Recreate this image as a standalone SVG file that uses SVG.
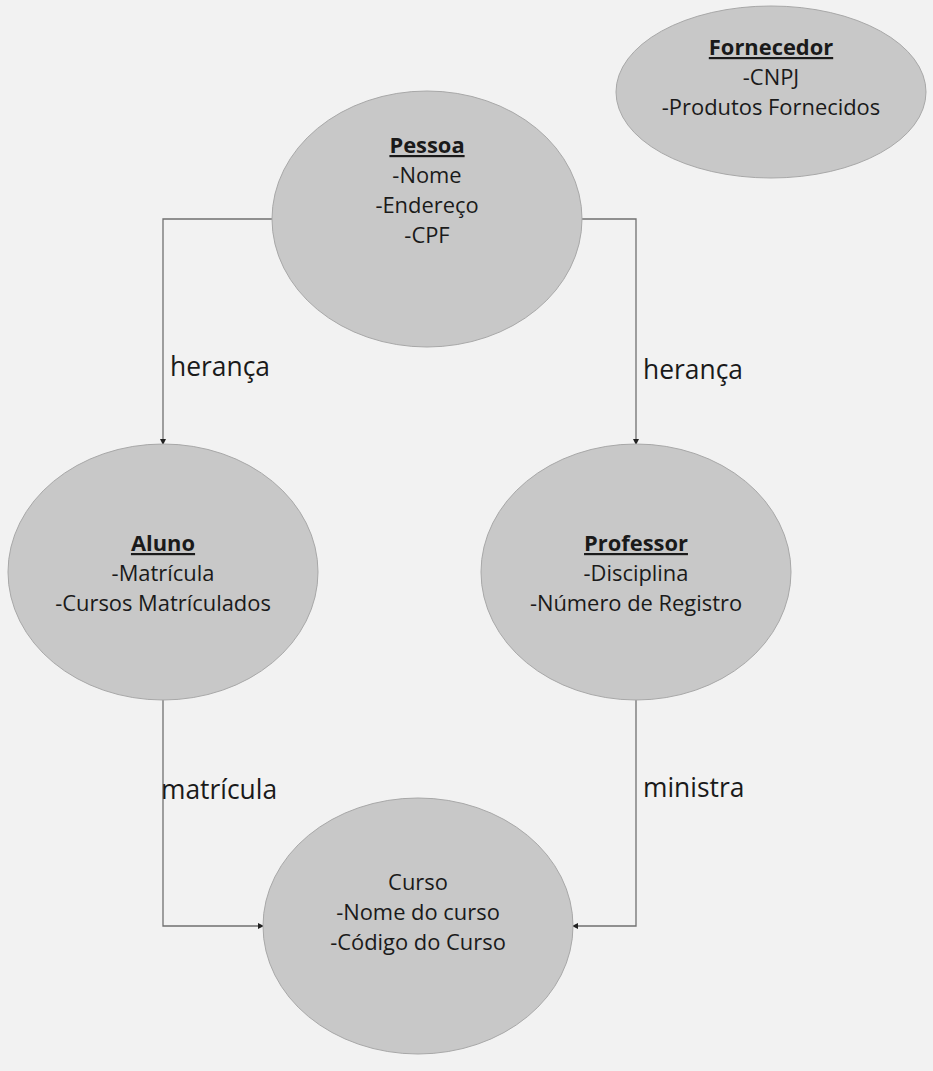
<svg xmlns="http://www.w3.org/2000/svg" width="933" height="1071" viewBox="0 0 933 1071">
<defs>
<style>
.n{fill:#c8c8c8;stroke:#a8a8a8;stroke-width:1}
.t{font-family:"Open Sans","Liberation Sans",sans-serif;font-size:21.9px;fill:#1a1a1a;text-anchor:middle}
.b{font-weight:bold;text-decoration:underline}
.l{font-family:"Open Sans","Liberation Sans",sans-serif;font-size:26.4px;fill:#1a1a1a}
.c{fill:none;stroke:#707070;stroke-width:1.3}
</style>
<marker id="a" markerWidth="6" markerHeight="6" refX="5" refY="3" orient="auto" markerUnits="userSpaceOnUse">
<path d="M0,0 L6,3 L0,6 z" fill="#222"/>
</marker>
</defs>
<rect width="933" height="1071" fill="#f2f2f2"/>
<g id="connectors">
<path class="c" d="M272,219 H163 V444" marker-end="url(#a)"/>
<path class="c" d="M582,219 H636 V444" marker-end="url(#a)"/>
<path class="c" d="M163,700 V926 H263" marker-end="url(#a)"/>
<path class="c" d="M636,700 V926 H573" marker-end="url(#a)"/>
<text class="l" x="170" y="376">herança</text>
<text class="l" x="643" y="379">herança</text>
<text class="l" x="161" y="799">matrícula</text>
<text class="l" x="643" y="797">ministra</text>
</g>
<g id="fornecedor">
<ellipse class="n" cx="771" cy="92" rx="155" ry="86"/>
<text class="t b" x="771" y="55">Fornecedor</text>
<text class="t" x="771" y="85">-CNPJ</text>
<text class="t" x="771" y="115">-Produtos Fornecidos</text>
</g>
<g id="pessoa">
<ellipse class="n" cx="427" cy="219" rx="155" ry="128"/>
<text class="t b" x="427" y="153">Pessoa</text>
<text class="t" x="427" y="183">-Nome</text>
<text class="t" x="427" y="213">-Endereço</text>
<text class="t" x="427" y="243">-CPF</text>
</g>
<g id="aluno">
<ellipse class="n" cx="163" cy="572" rx="155" ry="128"/>
<text class="t b" x="163" y="551">Aluno</text>
<text class="t" x="163" y="581">-Matrícula</text>
<text class="t" x="163" y="611">-Cursos Matrículados</text>
</g>
<g id="professor">
<ellipse class="n" cx="636" cy="572" rx="155" ry="128"/>
<text class="t b" x="636" y="551">Professor</text>
<text class="t" x="636" y="581">-Disciplina</text>
<text class="t" x="636" y="611">-Número de Registro</text>
</g>
<g id="curso">
<ellipse class="n" cx="418" cy="926" rx="155" ry="128"/>
<text class="t" x="418" y="890">Curso</text>
<text class="t" x="418" y="920">-Nome do curso</text>
<text class="t" x="418" y="950">-Código do Curso</text>
</g>
</svg>
